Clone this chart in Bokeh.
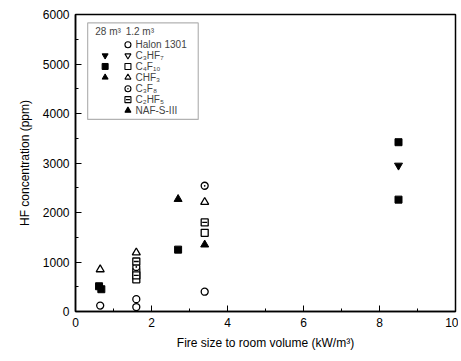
from bokeh.plotting import figure
from bokeh.models import Range1d, Label, BoxAnnotation, FixedTicker
from bokeh.embed import file_html
from bokeh.resources import INLINE

# ---- data ----
halon_x = [0.65, 1.6, 1.6, 3.4]
halon_y = [120, 250, 90, 400]

c3hf7_28_x = [8.5]
c3hf7_28_y = [2950]

c4f10_28_x = [0.62, 0.68, 2.7, 8.5, 8.5]
c4f10_28_y = [510, 450, 1250, 3420, 2260]

chf3_28_x = [2.7]
chf3_28_y = [2270]

c4f10_12_x = [1.6, 1.6, 3.4]
c4f10_12_y = [800, 650, 1590]

chf3_12_x = [0.65, 1.6, 3.4]
chf3_12_y = [850, 1190, 2210]

c3f8_12_x = [3.4, 1.6]
c3f8_12_y = [2540, 900]

c2hf5_12_x = [3.4, 1.6, 1.6]
c2hf5_12_y = [1800, 1010, 730]

naf_12_x = [3.4]
naf_12_y = [1350]

x_ticks = [0, 2, 4, 6, 8, 10]
y_ticks = [0, 1000, 2000, 3000, 4000, 5000, 6000]

legend_labels = ["Halon 1301", "C\u2083HF\u2087", "C\u2084F\u2081\u2080", "CHF\u2083",
                 "C\u2083F\u2088", "C\u2082HF\u2085", "NAF-S-III"]

FONT = "Liberation Sans"

p = figure(width=458, height=356, output_backend="svg", toolbar_location=None,
           x_range=Range1d(0, 10), y_range=Range1d(0, 6000),
           min_border_left=75, min_border_right=3, min_border_top=14, min_border_bottom=45)
p.grid.visible = False
p.outline_line_color = "black"
p.outline_line_width = 1.5
p.background_fill_color = "white"
p.border_fill_color = "white"

for ax in (p.xaxis[0], p.yaxis[0]):
    ax.axis_line_color = "black"
    ax.axis_line_width = 1.5
    ax.major_tick_in = 6
    ax.major_tick_out = 0
    ax.minor_tick_in = 3
    ax.minor_tick_out = 0
    ax.major_label_text_font = FONT
    ax.major_label_text_font_size = "12px"
    ax.major_label_text_color = "black"
    ax.axis_label_text_font = FONT
    ax.axis_label_text_font_size = "12px"
    ax.axis_label_text_font_style = "normal"
    ax.axis_label_text_color = "black"

p.xaxis.ticker = FixedTicker(ticks=x_ticks, minor_ticks=[1, 3, 5, 7, 9])
p.yaxis.ticker = FixedTicker(ticks=y_ticks, minor_ticks=[500, 1500, 2500, 3500, 4500, 5500])
p.xaxis.axis_label = "Fire size to room volume (kW/m\u00b3)"
p.yaxis.axis_label = "HF concentration (ppm)"
p.xaxis.major_label_standoff = 6
p.yaxis.major_label_standoff = 6
p.xaxis.axis_label_standoff = 6
p.yaxis.axis_label_standoff = 8

S = 7
LW = 1.3
# open markers (1.2 m3)
p.scatter(halon_x, halon_y, marker="circle", size=S, fill_color="white", line_color="black", line_width=LW)
p.scatter(c4f10_12_x, c4f10_12_y, marker="square", size=S, fill_color="white", line_color="black", line_width=LW)
p.scatter(chf3_12_x, chf3_12_y, marker="triangle", size=S + 1, fill_color="white", line_color="black", line_width=LW)
p.scatter(c3f8_12_x, c3f8_12_y, marker="circle_dot", size=S, fill_color="white", line_color="black", line_width=LW)
p.scatter(c2hf5_12_x, c2hf5_12_y, marker="square", size=S, fill_color="white", line_color="black", line_width=LW)
p.scatter(c2hf5_12_x, c2hf5_12_y, marker="dash", size=S - 2, line_color="black", line_width=LW)
p.scatter(naf_12_x, naf_12_y, marker="triangle", size=S + 1, fill_color="black", line_color="black")
# filled markers (28 m3)
p.scatter(c3hf7_28_x, c3hf7_28_y, marker="inverted_triangle", size=S + 1, fill_color="black", line_color="black")
p.scatter(c4f10_28_x, c4f10_28_y, marker="square", size=S, fill_color="black", line_color="black")
p.scatter(chf3_28_x, chf3_28_y, marker="triangle", size=S + 1, fill_color="black", line_color="black")

# ---- legend (drawn manually: two symbol columns) ----
lx0, lx1, ly_top, ly_bot = 0.32, 3.23, 5830, 3880
p.add_layout(BoxAnnotation(left=lx0, right=lx1, top=ly_top, bottom=ly_bot,
                           fill_alpha=0, line_color="black", line_width=1.2))
col1 = 0.78
col2 = 1.38
txt_x = 1.58
head_y = 5650
row_y = [5390, 5170, 4950, 4730, 4500, 4280, 4060]
p.add_layout(Label(x=0.52, y=head_y, text="28 m\u00b3", text_font=FONT, text_font_size="10px",
                   text_baseline="middle"))
p.add_layout(Label(x=1.32, y=head_y, text="1.2 m\u00b3", text_font=FONT, text_font_size="10px",
                   text_baseline="middle"))
for lab, yy in zip(legend_labels, row_y):
    p.add_layout(Label(x=txt_x, y=yy, text=lab, text_font=FONT, text_font_size="10px",
                       text_baseline="middle"))

LS = 6
open_markers = ["circle", "inverted_triangle", "square", "triangle", "circle_dot", "square", "triangle"]
open_fill = ["white", "white", "white", "white", "white", "white", "black"]
p.scatter([col2] * 7, row_y, marker=open_markers, size=LS, fill_color=open_fill,
          line_color="black", line_width=1.1)
p.scatter([col2], [row_y[5]], marker="dash", size=LS - 2, line_color="black", line_width=1.1)
filled_markers = ["inverted_triangle", "square", "triangle"]
p.scatter([col1] * 3, row_y[1:4], marker=filled_markers, size=LS, fill_color="black", line_color="black")

open("out.html", "w").write(file_html(p, INLINE))
